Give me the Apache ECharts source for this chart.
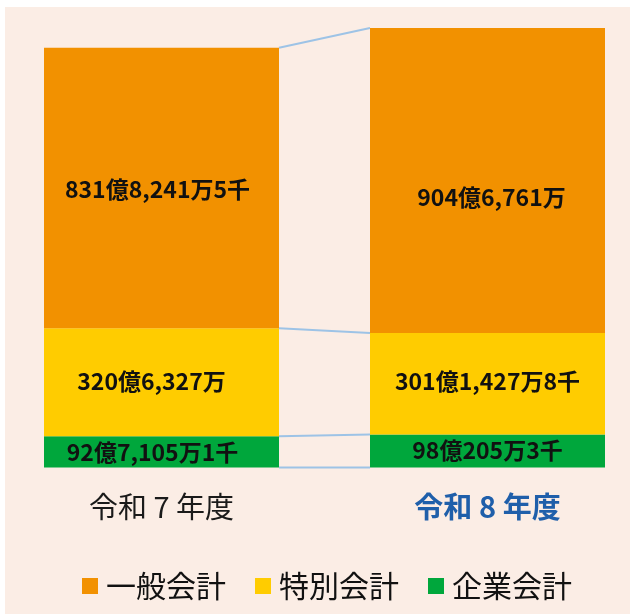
<!DOCTYPE html>
<html>
<head>
<meta charset="utf-8">
<script src="https://cdn.jsdelivr.net/npm/echarts@6/dist/echarts.min.js"></script>
<style>
html, body { margin: 0; padding: 0; background: #fff; }
#chart { width: 630px; height: 614px; }
</style>
</head>
<body>
<div id="chart"></div>
<script>
// 単位：千円
var categories = ['令和 7 年度', '令和 8 年度'];
var general = [83182415, 90467610];
var special = [32063270, 30114278];
var enterprise = [9271051, 9802053];
var seriesNames = ['一般会計', '特別会計', '企業会計'];

var colors = { general: '#F29100', special: '#FFCC00', enterprise: '#00A73C' };

function yen(v) {
	var oku = Math.floor(v / 100000);
	var man = Math.floor(v % 100000 / 10);
	var sen = v % 10;
	var s = oku + '億';
	if (man) s += man.toLocaleString('en-US') + '万';
	if (sen) s += sen + '千';
	return s;
}

// 積み上げの境界（棒の間を結ぶ線）
var bounds = [];
for (var k = 0; k < 4; k++) {
	var row = [0];
	for (var i = 0; i < categories.length; i++) {
		var parts = [0, enterprise[i], special[i], general[i]];
		var sum = 0;
		for (var j = 0; j <= k; j++) sum += parts[j];
		row.push(sum);
	}
	bounds.push(row);
}

var barW = 235;
var labelFont = {
	fontFamily: 'Noto Sans CJK JP',
	fontSize: 23,
	fontWeight: 'bold',
	color: '#111'
};

function withOffset(arr, offs) {
	return arr.map(function(v, i) {
		return { value: v, label: { offset: offs[i] } };
	});
}

var chart = echarts.init(document.getElementById('chart'));
chart.setOption({
	animation: false,
	textStyle: { fontFamily: 'Noto Sans CJK JP' },
	graphic: [{
		type: 'rect',
		left: 5,
		top: 7,
		z: -10,
		shape: { width: 625, height: 607 },
		style: { fill: '#FBEDE5' }
	}],
	grid: { left: -1.5, width: 652, top: 12.5, height: 455, outerBoundsMode: 'none' },
	legend: {
		data: seriesNames,
		left: 77,
		top: 566,
		itemWidth: 16,
		itemHeight: 16,
		itemGap: 29,
		icon: 'rect',
		textStyle: { fontSize: 30, color: '#111', fontFamily: 'Noto Sans CJK JP', padding: [0, 0, 0, 3] }
	},
	xAxis: {
		type: 'category',
		data: categories,
		axisLine: { show: false },
		axisTick: { show: false },
		axisLabel: {
			margin: 25,
			formatter: function(v, i) {
				return i === 1 ? '{b|' + v + '}' : '{a|' + v + '}';
			},
			rich: {
				a: { fontSize: 29, color: '#1a1a1a', fontFamily: 'Noto Sans CJK JP' },
				b: { fontSize: 29, color: '#1F5FAA', fontWeight: 'bold', fontFamily: 'Noto Sans CJK JP' }
			}
		}
	},
	yAxis: { type: 'value', min: 0, max: 135000000, show: false },
	series: [{
		name: '企業会計',
		type: 'bar',
		stack: 'total',
		barWidth: barW,
		itemStyle: { color: colors.enterprise },
		label: Object.assign({ show: true, formatter: function(p) { return yen(p.value); } }, labelFont),
		data: withOffset(enterprise, [[-9, 0], [0, -1]])
	}, {
		name: '特別会計',
		type: 'bar',
		stack: 'total',
		barWidth: barW,
		itemStyle: { color: colors.special },
		label: Object.assign({ show: true, formatter: function(p) { return yen(p.value); } }, labelFont),
		data: withOffset(special, [[-10, -1], [0, -2]])
	}, {
		name: '一般会計',
		type: 'bar',
		stack: 'total',
		barWidth: barW,
		itemStyle: { color: colors.general },
		label: Object.assign({ show: true, formatter: function(p) { return yen(p.value); } }, labelFont),
		data: withOffset(general, [[-4, 1], [4, 17]])
	}, {
		type: 'custom',
		silent: true,
		encode: { x: 0, y: [1, 2] },
		renderItem: function(params, api) {
			var a = api.coord([0, api.value(1)]);
			var b = api.coord([1, api.value(2)]);
			return {
				type: 'line',
				shape: { x1: a[0] + barW / 2, y1: a[1], x2: b[0] - barW / 2, y2: b[1] },
				style: { stroke: '#9DC3E6', lineWidth: 2 }
			};
		},
		data: bounds
	}]
});
</script>
</body>
</html>
